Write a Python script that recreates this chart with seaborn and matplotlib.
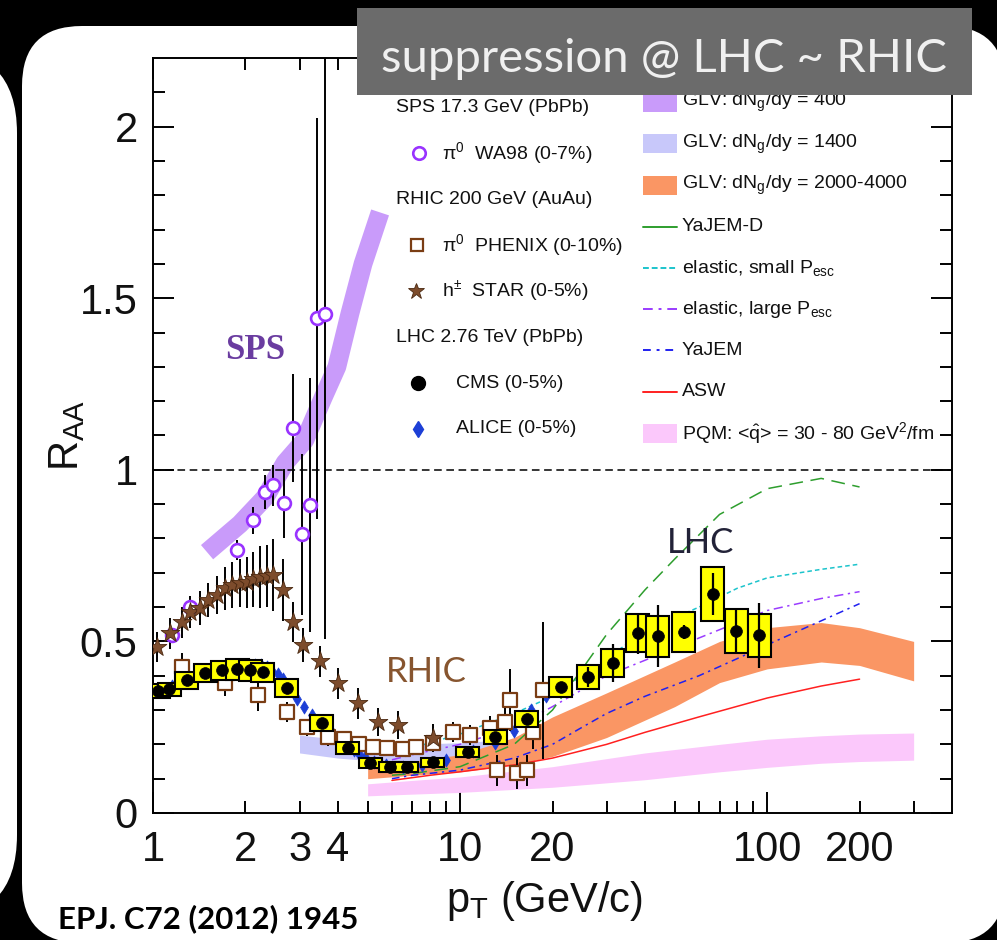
import numpy as np
import matplotlib
matplotlib.use("Agg")
import matplotlib.pyplot as plt
import seaborn as sns
from matplotlib.patches import FancyBboxPatch, Rectangle
from matplotlib.lines import Line2D
from matplotlib.offsetbox import AnchoredOffsetbox, DrawingArea, HPacker, TextArea, VPacker
from matplotlib.ticker import FixedLocator, FixedFormatter

# ---------------- measurements ----------------
# SPS: WA98 pi0, 0-7 %
wa98_pt = [1.15, 1.32, 1.88, 2.12, 2.32, 2.46, 2.67, 2.86, 3.06, 3.25, 3.42, 3.63]
wa98_raa = [0.52, 0.60, 0.766, 0.853, 0.935, 0.955, 0.902, 1.121, 0.812, 0.897, 1.441, 1.453]
wa98_err = [0.02, 0.02, 0.03, 0.04, 0.05, 0.06, 0.10, 0.157, 0.235, 0.37, 0.585, 0.946]

# RHIC: PHENIX pi0, 0-10 %
phenix_pt = [1.24, 1.72, 2.2, 2.73, 3.17, 3.71, 4.2, 4.7, 5.2, 5.78, 6.5, 7.2, 8.16,
             9.5, 10.8, 12.5, 13.2, 14.0, 14.5, 15.3, 16.5, 17.3, 18.6]
phenix_raa = [0.425, 0.38, 0.343, 0.294, 0.25, 0.221, 0.215, 0.20, 0.192, 0.189, 0.186,
              0.192, 0.204, 0.236, 0.227, 0.247, 0.125, 0.265, 0.329, 0.116, 0.125, 0.236, 0.358]
phenix_err = [0.04, 0.04, 0.045, 0.03, 0.025, 0.025, 0.025, 0.025, 0.02, 0.02, 0.02, 0.02,
              0.02, 0.03, 0.03, 0.035, 0.045, 0.04, 0.09, 0.045, 0.045, 0.05, 0.2]

# RHIC: STAR charged hadrons, 0-5 %
star_pt = [1.03, 1.14, 1.24, 1.32, 1.42, 1.51, 1.62, 1.72, 1.81, 1.92, 2.02, 2.12, 2.23,
           2.35, 2.46, 2.65, 2.86, 3.08, 3.49, 4.0, 4.65, 5.41, 6.28, 8.16]
star_raa = [0.483, 0.524, 0.556, 0.585, 0.597, 0.62, 0.635, 0.655, 0.664, 0.67, 0.672, 0.681,
            0.687, 0.69, 0.693, 0.649, 0.556, 0.489, 0.442, 0.378, 0.32, 0.265, 0.256, 0.218]
star_err = [0.044, 0.045, 0.045, 0.047, 0.05, 0.05, 0.055, 0.063, 0.066, 0.07, 0.075, 0.08,
            0.09, 0.09, 0.105, 0.09, 0.058, 0.05, 0.045, 0.045, 0.045, 0.04, 0.04, 0.04]

# LHC: CMS charged hadrons, 0-5 %
cms_pt = [1.04, 1.13, 1.29, 1.48, 1.68, 1.88, 2.07, 2.28, 2.73, 3.55, 4.31, 5.09, 5.92, 6.7,
          8.16, 10.6, 13.0, 16.5, 21.3, 26.1, 31.4, 37.9, 44.1, 53.5, 66.5, 79.2, 94.1]
cms_raa = [0.355, 0.36, 0.387, 0.408, 0.416, 0.419, 0.416, 0.41, 0.364, 0.262, 0.189, 0.146,
           0.134, 0.134, 0.148, 0.178, 0.221, 0.274, 0.367, 0.396, 0.437, 0.524, 0.515,
           0.527, 0.638, 0.53, 0.518]
cms_stat = [0.005, 0.005, 0.005, 0.005, 0.005, 0.005, 0.005, 0.005, 0.005, 0.005, 0.005,
            0.005, 0.005, 0.005, 0.005, 0.008, 0.01, 0.01, 0.015, 0.03, 0.055, 0.06, 0.09,
            0.02, 0.06, 0.065, 0.095]
cms_syst = [0.02, 0.02, 0.025, 0.025, 0.028, 0.03, 0.03, 0.028, 0.027, 0.024, 0.017, 0.015,
            0.015, 0.015, 0.013, 0.015, 0.02, 0.023, 0.029, 0.034, 0.041, 0.056, 0.06, 0.059,
            0.078, 0.063, 0.063]

# LHC: ALICE charged hadrons, 0-5 %
alice_pt = [1.05, 1.15, 1.25, 1.35, 1.45, 1.55, 1.65, 1.75, 1.85, 1.95, 2.05, 2.15, 2.25,
            2.35, 2.45, 2.55, 2.65, 2.75, 2.85, 2.95, 3.1, 3.3, 3.5, 3.7, 3.9, 4.1, 4.3,
            4.5, 4.7, 4.9, 5.25, 5.75, 6.5, 7.5, 9.0, 11.0, 13.0, 15.0, 17.0, 19.0]
alice_raa = [0.36, 0.37, 0.385, 0.395, 0.405, 0.41, 0.415, 0.42, 0.425, 0.43, 0.432, 0.432,
             0.43, 0.425, 0.415, 0.405, 0.39, 0.372, 0.352, 0.332, 0.31, 0.285, 0.262,
             0.243, 0.226, 0.21, 0.197, 0.185, 0.172, 0.162, 0.15, 0.14, 0.135, 0.14,
             0.155, 0.18, 0.205, 0.24, 0.30, 0.34]

# ---------------- model calculations ----------------
glv400_pt = [1.50, 1.92, 2.32, 2.69, 3.12, 3.58, 3.97, 4.38, 4.83, 5.49]
glv400_raa = [0.76, 0.842, 0.92, 1.02, 1.086, 1.21, 1.30, 1.456, 1.60, 1.75]

glv1400_pt = [3.0, 4.0, 5.2, 7.0, 10.0, 15.0, 20.0]
glv1400_lo = [0.175, 0.16, 0.152, 0.15, 0.155, 0.17, 0.19]
glv1400_hi = [0.227, 0.215, 0.205, 0.20, 0.205, 0.215, 0.233]

glv_lhc_pt = [5, 7, 10, 15, 20, 30, 50, 70, 100, 150, 200, 300]
glv_lhc_lo = [0.10, 0.11, 0.12, 0.14, 0.165, 0.22, 0.31, 0.38, 0.42, 0.44, 0.43, 0.385]
glv_lhc_hi = [0.14, 0.15, 0.17, 0.22, 0.28, 0.35, 0.44, 0.50, 0.54, 0.555, 0.54, 0.50]

pqm_pt = [5, 7, 10, 20, 40, 70, 100, 150, 200, 300]
pqm_lo = [0.05, 0.055, 0.06, 0.075, 0.097, 0.12, 0.133, 0.145, 0.15, 0.154]
pqm_hi = [0.085, 0.095, 0.105, 0.135, 0.175, 0.20, 0.215, 0.225, 0.23, 0.233]

yajemd_pt = [6, 7, 10, 15, 20, 25, 30, 40, 50, 70, 100, 150, 200]
yajemd_raa = [0.11, 0.115, 0.135, 0.2, 0.3, 0.42, 0.52, 0.65, 0.74, 0.87, 0.945, 0.975, 0.95]

el_small_pt = [6, 7, 10, 15, 20, 30, 40, 60, 80, 100, 150, 200]
el_small_raa = [0.17, 0.19, 0.23, 0.29, 0.34, 0.45, 0.53, 0.60, 0.655, 0.685, 0.71, 0.725]

el_large_pt = [6, 7, 10, 15, 20, 30, 40, 60, 100, 150, 200]
el_large_raa = [0.155, 0.17, 0.2, 0.25, 0.31, 0.40, 0.445, 0.51, 0.59, 0.625, 0.645]

yajem_pt = [6, 7, 10, 15, 20, 25, 30, 40, 60, 80, 100, 150, 200]
yajem_raa = [0.10, 0.11, 0.125, 0.16, 0.2, 0.25, 0.29, 0.34, 0.40, 0.45, 0.49, 0.56, 0.61]

asw_pt = [6, 8, 10, 15, 20, 30, 40, 60, 100, 150, 200]
asw_raa = [0.095, 0.11, 0.12, 0.14, 0.16, 0.2, 0.235, 0.28, 0.335, 0.37, 0.39]

# axis ticks
x_major = [1, 10, 100]
x_major_labels = ["1", "10", "100"]
x_minor = [2, 3, 4, 5, 6, 7, 8, 9, 20, 30, 40, 50, 60, 70, 80, 90, 200, 300]
x_minor_labels = ["2", "3", "4", "", "", "", "", "", "20", "", "", "", "", "", "", "",
                  "200", ""]
y_major = [0, 0.5, 1, 1.5, 2]
y_major_labels = ["0", "0.5", "1", "1.5", "2"]

# ---------------- colours ----------------
C_GLV400 = "#c99bfa"
C_GLV1400 = "#c8c8fa"
C_GLVLHC = "#fa9664"
C_PQM = "#fbc8fb"
C_YAJEMD = "#2e9e2e"
C_ELSMALL = "#1cc4cc"
C_ELLARGE = "#9a3cff"
C_YAJEM = "#2020f0"
C_ASW = "#ff2020"
C_WA98 = "#9933ff"
C_PHENIX = "#7a3d14"
C_STAR = "#7d4c2c"
C_ALICE = "#1d3fd6"

sns.set_theme(style="ticks")
plt.rcParams["font.family"] = ["Liberation Sans", "DejaVu Sans"]
plt.rcParams["mathtext.fontset"] = "custom"
plt.rcParams["mathtext.rm"] = "Liberation Sans"
plt.rcParams["mathtext.it"] = "Liberation Sans:italic"
plt.rcParams["mathtext.bf"] = "Liberation Sans:bold"

W, H = 997, 940
PT = 0.72  # points per pixel at 100 dpi
fig = plt.figure(figsize=(W / 100, H / 100), dpi=100, facecolor="black")

# slide panels behind the chart
fig.add_artist(FancyBboxPatch((-1.6, (H - 920) / 100), 1.77, (920 - 48) / 100,
                              boxstyle="round,pad=0,rounding_size=0.85",
                              transform=fig.dpi_scale_trans, facecolor="white",
                              edgecolor="none", zorder=-3))
fig.add_artist(FancyBboxPatch((0.22, (H - 943) / 100), (1005 - 22) / 100, (943 - 26) / 100,
                              boxstyle="round,pad=0,rounding_size=0.6",
                              transform=fig.dpi_scale_trans, facecolor="white",
                              edgecolor="none", zorder=-2))

ax = fig.add_axes([153 / W, 1 - 813 / H, (952 - 153) / W, (813 - 58) / H])
ax.set_facecolor("white")
ax.set_xscale("log")
ax.set_xlim(1, 400)
ax.set_ylim(0, 2.2)

# ---- model bands ----
sns.lineplot(x=glv400_pt, y=glv400_raa, ax=ax, color=C_GLV400, linewidth=13.5,
             solid_capstyle="butt", estimator=None, errorbar=None, sort=False,
             legend=False, zorder=1)
ax.fill_between(glv1400_pt, glv1400_lo, glv1400_hi, color=C_GLV1400, lw=0, zorder=1)
ax.fill_between(glv_lhc_pt, glv_lhc_lo, glv_lhc_hi, color=C_GLVLHC, lw=0, zorder=1.1)
ax.fill_between(pqm_pt, pqm_lo, pqm_hi, color=C_PQM, lw=0, zorder=1.1)

ax.axhline(1, color="black", lw=1.1, ls=(0, (5, 3)), zorder=2)

# ---- model curves ----
curves = [
    (asw_pt, asw_raa, C_ASW, "-"),
    (yajem_pt, yajem_raa, C_YAJEM, (0, (5, 3, 1.5, 3))),
    (el_large_pt, el_large_raa, C_ELLARGE, (0, (6, 3, 1.5, 3))),
    (el_small_pt, el_small_raa, C_ELSMALL, (0, (3, 2))),
    (yajemd_pt, yajemd_raa, C_YAJEMD, (0, (9, 5))),
]
for cx, cy, col, ls in curves:
    sns.lineplot(x=cx, y=cy, ax=ax, color=col, linewidth=1.1, linestyle=ls,
                 estimator=None, errorbar=None, sort=False, legend=False, zorder=2.2)

# ---- data ----
sns.scatterplot(x=alice_pt, y=alice_raa, ax=ax, marker="d", s=45, color=C_ALICE,
                edgecolor=C_ALICE, linewidth=0.5, legend=False, zorder=3)

ax.errorbar(phenix_pt, phenix_raa, yerr=phenix_err, fmt="none", ecolor="black",
            elinewidth=1.4, capsize=0, zorder=3.4)
sns.scatterplot(x=phenix_pt, y=phenix_raa, ax=ax, marker="s", s=95, facecolor="white",
                edgecolor=C_PHENIX, linewidth=1.6, legend=False, zorder=3.5)

ax.errorbar(wa98_pt, wa98_raa, yerr=wa98_err, fmt="none", ecolor="black",
            elinewidth=1.4, capsize=0, zorder=3.4)
sns.scatterplot(x=wa98_pt, y=wa98_raa, ax=ax, marker="o", s=85, facecolor="white",
                edgecolor=C_WA98, linewidth=1.9, legend=False, zorder=3.55)

ax.errorbar(star_pt, star_raa, yerr=star_err, fmt="none", ecolor="black",
            elinewidth=1.4, capsize=0, zorder=3.45)
sns.scatterplot(x=star_pt, y=star_raa, ax=ax, marker="*", s=200, color=C_STAR,
                edgecolor="#4a2810", linewidth=0.6, legend=False, zorder=3.6)

box_f = 1.09
cms_pt_a = np.array(cms_pt)
cms_raa_a = np.array(cms_raa)
cms_syst_a = np.array(cms_syst)
ax.bar(cms_pt_a / box_f, 2 * cms_syst_a, width=cms_pt_a * (box_f - 1 / box_f),
       bottom=cms_raa_a - cms_syst_a, align="edge", color="#ffff00",
       edgecolor="black", linewidth=1.5, zorder=4)
ax.errorbar(cms_pt, cms_raa, yerr=cms_stat, fmt="none", ecolor="black",
            elinewidth=1.6, capsize=0, zorder=4.1)
sns.scatterplot(x=cms_pt, y=cms_raa, ax=ax, marker="o", s=72, color="black",
                edgecolor="black", linewidth=0.5, legend=False, zorder=4.2)

# ---- region labels ----
ax.text(2.15, 1.348, "SPS", family="Liberation Serif", weight="bold", fontsize=25,
        color="#6a3ca0", ha="center", va="center", zorder=5)
ax.text(7.76, 0.41, "RHIC", family="Lato", fontsize=25, color="#87552f",
        ha="center", va="center", zorder=5)
ax.text(60.6, 0.786, "LHC", family="Lato", fontsize=25, color="#222238",
        ha="center", va="center", zorder=5)

# ---- axes styling ----
ax.xaxis.set_major_locator(FixedLocator(x_major))
ax.xaxis.set_major_formatter(FixedFormatter(x_major_labels))
ax.xaxis.set_minor_locator(FixedLocator(x_minor))
ax.xaxis.set_minor_formatter(FixedFormatter(x_minor_labels))
ax.yaxis.set_major_locator(FixedLocator(y_major))
ax.yaxis.set_major_formatter(FixedFormatter(y_major_labels))
ax.yaxis.set_minor_locator(FixedLocator(np.arange(0.1, 2.2, 0.1)))

for s in ax.spines.values():
    s.set_visible(True)
    s.set_linewidth(1.4)
    s.set_color("black")
ax.tick_params(which="both", direction="in", top=True, right=True, width=1.4,
               color="black", labelcolor="#111111", labelsize=30)
ax.tick_params(which="major", length=15)
ax.tick_params(which="minor", length=8.5)
ax.tick_params(axis="x", which="both", pad=12)
ax.tick_params(axis="y", which="both", pad=11)

ax.set_xlabel(r"p$_{\mathrm{T}}$ (GeV/c)", fontsize=30, color="#111111")
ax.set_ylabel(r"R$_{\mathrm{AA}}$", fontsize=30, color="#111111")
ax.xaxis.set_label_coords(0.49, -0.088)
ax.yaxis.set_label_coords(-0.083, 0.5)

# ---- legends ----
tp = dict(fontsize=14, color="#111111")


def header_row(text, pitch):
    return HPacker(children=[DrawingArea(0, pitch * PT), TextArea(text, textprops=tp)],
                   align="center", pad=0, sep=0)


def marker_row(text, pitch, width, xc, **mk):
    da = DrawingArea(width * PT, pitch * PT, 0, 0)
    da.add_artist(Line2D([xc * PT], [pitch * PT / 2], linestyle="none", **mk))
    return HPacker(children=[da, TextArea(text, textprops=tp)], align="center", pad=0, sep=0)


def patch_row(text, pitch, color):
    da = DrawingArea(39 * PT, pitch * PT, 0, 0)
    da.add_artist(Rectangle((0, (pitch - 19) / 2 * PT), 34 * PT, 19 * PT,
                            facecolor=color, edgecolor="none"))
    return HPacker(children=[da, TextArea(text, textprops=tp)], align="center", pad=0, sep=0)


def line_row(text, pitch, color, ls):
    da = DrawingArea(39 * PT, pitch * PT, 0, 0)
    da.add_artist(Line2D([0, 34 * PT], [pitch * PT / 2] * 2, color=color, lw=1.4, ls=ls))
    return HPacker(children=[da, TextArea(text, textprops=tp)], align="center", pad=0, sep=0)


pl = 46.0
left_rows = [
    header_row("SPS 17.3 GeV (PbPb)", pl),
    marker_row("π$^0$  WA98 (0-7%)", pl, 46, 23, marker="o", markersize=9,
               markerfacecolor="white", markeredgecolor=C_WA98, markeredgewidth=1.9),
    header_row("RHIC 200 GeV (AuAu)", pl),
    marker_row("π$^0$  PHENIX (0-10%)", pl, 46, 21, marker="s", markersize=9,
               markerfacecolor="white", markeredgecolor=C_PHENIX, markeredgewidth=1.6),
    marker_row(r"h$^{\pm}$  STAR (0-5%)", pl, 46, 20, marker="*", markersize=12,
               markerfacecolor=C_STAR, markeredgecolor="#4a2810", markeredgewidth=0.6),
    header_row("LHC 2.76 TeV (PbPb)", pl),
    marker_row("CMS (0-5%)", pl, 60, 22, marker="o", markersize=10,
               markerfacecolor="black", markeredgecolor="black"),
    marker_row("ALICE (0-5%)", pl, 60, 22, marker="d", markersize=8,
               markerfacecolor=C_ALICE, markeredgecolor=C_ALICE),
]
left_box = AnchoredOffsetbox(loc="upper left",
                             child=VPacker(children=left_rows, align="left", pad=0, sep=0),
                             pad=0, borderpad=0, frameon=False,
                             bbox_to_anchor=(396 / W, 1 - 84 / H),
                             bbox_transform=fig.transFigure)
left_box.set_zorder(6)
ax.add_artist(left_box)

pr = 41.3
right_rows = [
    patch_row(r"GLV: dN$_{\mathrm{g}}$/dy = 400", pr, C_GLV400),
    patch_row(r"GLV: dN$_{\mathrm{g}}$/dy = 1400", pr, C_GLV1400),
    patch_row(r"GLV: dN$_{\mathrm{g}}$/dy = 2000-4000", pr, C_GLVLHC),
    line_row("YaJEM-D", pr, C_YAJEMD, "-"),
    line_row(r"elastic, small P$_{\mathrm{esc}}$", pr, C_ELSMALL, (0, (3, 1.5))),
    line_row(r"elastic, large P$_{\mathrm{esc}}$", pr, C_ELLARGE, (0, (5, 3, 1.5, 3))),
    line_row("YaJEM", pr, C_YAJEM, (0, (4, 3, 1.5, 3))),
    line_row("ASW", pr, C_ASW, "-"),
    patch_row(r"PQM: <$\hat{\mathrm{q}}$> = 30 - 80 GeV$^{2}$/fm", pr, C_PQM),
]
right_box = AnchoredOffsetbox(loc="upper left",
                              child=VPacker(children=right_rows, align="left", pad=0, sep=0),
                              pad=0, borderpad=0, frameon=False,
                              bbox_to_anchor=(643 / W, 1 - 82 / H),
                              bbox_transform=fig.transFigure)
right_box.set_zorder(6)
ax.add_artist(right_box)

# ---- headline box and reference ----
fig.add_artist(Rectangle((357 / W, 1 - 95 / H), (972 - 357) / W, (95 - 8) / H,
                         transform=fig.transFigure, facecolor="#6b6b6b",
                         edgecolor="none", zorder=10))
fig.text(664 / W, 1 - 72 / H, "suppression @ LHC ~ RHIC", family="Lato", fontsize=34,
         color="#f0f0f0", ha="center", va="baseline", zorder=11)
fig.text(58 / W, 1 - 928 / H, "EPJ. C72 (2012) 1945", family="Lato", weight="bold",
         fontsize=22.5, color="black", ha="left", va="baseline", zorder=11)

fig.savefig("out.png", dpi=100, facecolor="black")
